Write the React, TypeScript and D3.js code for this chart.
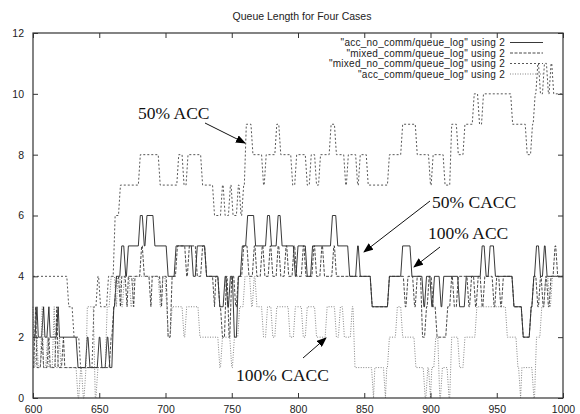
import React, { useEffect, useRef } from "react";
import * as d3 from "d3";

// [time, queue length] — each pair starts a run that holds until the next pair
const accNoComm: [number, number][] = [
  [600, 2], [603, 3], [604, 2], [608, 3], [609, 2], [612, 3], [613, 2], [619, 3], [620, 2],
  [634, 1], [641, 2], [643, 1], [650, 2], [652, 1], [656, 2], [658, 1], [661, 3], [663, 4],
  [667, 5], [670, 4], [672, 5], [681, 6], [684, 5], [686, 6], [692, 5], [702, 4], [708, 5],
  [721, 4], [724, 5], [731, 4], [741, 3], [745, 4], [747, 3], [749, 4], [752, 2], [755, 4],
  [758, 5], [762, 6], [768, 5], [777, 6], [780, 5], [785, 6], [788, 5], [798, 4], [800, 5],
  [807, 4], [811, 5], [826, 6], [830, 5], [839, 4], [845, 5], [847, 4], [856, 3], [869, 4],
  [879, 5], [886, 4], [895, 3], [897, 4], [901, 3], [903, 4], [908, 3], [910, 4], [922, 3],
  [927, 4], [939, 5], [942, 4], [945, 5], [949, 4], [963, 3], [970, 2], [976, 3], [978, 4],
  [980, 5], [983, 4], [986, 5], [988, 4],
];

const mixedComm: [number, number][] = [
  [600, 1], [602, 3], [603, 1], [607, 2], [608, 1], [612, 2], [613, 1], [618, 3], [619, 1],
  [623, 2], [624, 1], [659, 2], [661, 3], [663, 4], [666, 3], [667, 4], [671, 3], [672, 4],
  [676, 3], [677, 4], [682, 5], [684, 4], [689, 3], [690, 4], [697, 3], [698, 4], [702, 2],
  [705, 4], [709, 5], [716, 4], [718, 5], [724, 4], [728, 5], [731, 4], [737, 3], [738, 4],
  [741, 3], [743, 2], [746, 4], [748, 2], [750, 4], [753, 3], [755, 4], [759, 5], [763, 4],
  [767, 5], [769, 4], [773, 5], [775, 4], [779, 5], [781, 4], [785, 5], [787, 4], [791, 5],
  [793, 4], [797, 5], [799, 4], [804, 5], [806, 4], [812, 5], [814, 4], [818, 5], [820, 4],
  [827, 5], [829, 4], [856, 3], [869, 4], [881, 3], [883, 4], [888, 3], [890, 4], [894, 2],
  [897, 3], [899, 4], [902, 3], [905, 2], [913, 3], [916, 4], [918, 3], [921, 4], [929, 3],
  [931, 4], [934, 3], [936, 4], [939, 3], [941, 4], [948, 3], [950, 4], [953, 3], [955, 4],
  [963, 3], [970, 2], [976, 3], [978, 4], [981, 3], [983, 4], [985, 3], [987, 4], [989, 3],
  [991, 4], [994, 5], [996, 4],
];

const mixedNoComm: [number, number][] = [
  [600, 4], [627, 3], [631, 2], [636, 1], [646, 3], [649, 4], [651, 3], [657, 4], [662, 6],
  [666, 7], [681, 8], [696, 7], [710, 8], [714, 7], [717, 8], [728, 7], [737, 6], [743, 7],
  [745, 6], [749, 7], [751, 6], [755, 7], [757, 6], [759, 7], [761, 9], [766, 8], [774, 7],
  [776, 8], [784, 9], [787, 8], [796, 7], [799, 8], [807, 7], [810, 8], [814, 7], [817, 8],
  [825, 9], [829, 8], [836, 7], [838, 8], [845, 7], [847, 8], [853, 7], [869, 8], [879, 9],
  [890, 8], [900, 7], [902, 8], [911, 7], [916, 9], [921, 8], [926, 9], [933, 10], [937, 9],
  [940, 10], [962, 9], [973, 8], [977, 9], [979, 10], [981, 11], [983, 10], [986, 11],
  [989, 10], [991, 11], [993, 10],
];

const accComm: [number, number][] = [
  [600, 3], [601, 1], [603, 2], [604, 1], [607, 3], [608, 1], [611, 2], [612, 1], [616, 3],
  [617, 1], [620, 2], [621, 1], [634, 0], [636, 1], [638, 0], [640, 1], [641, 3], [647, 0],
  [649, 1], [656, 3], [659, 4], [663, 3], [664, 4], [667, 3], [669, 4], [674, 3], [676, 4],
  [696, 3], [698, 4], [701, 3], [702, 2], [705, 3], [714, 2], [716, 3], [726, 2], [741, 1],
  [743, 2], [750, 1], [752, 2], [756, 3], [760, 4], [765, 3], [767, 4], [769, 3], [774, 2],
  [777, 3], [781, 2], [784, 3], [794, 2], [798, 3], [804, 2], [807, 3], [814, 2], [822, 3],
  [829, 2], [832, 3], [835, 2], [841, 3], [843, 1], [857, 0], [858, 1], [866, 0], [867, 1],
  [869, 2], [875, 3], [879, 2], [889, 1], [896, 0], [898, 1], [900, 0], [901, 1], [904, 2],
  [907, 0], [909, 1], [914, 0], [916, 2], [922, 1], [926, 2], [935, 3], [958, 2], [966, 1],
  [968, 0], [969, 1], [978, 0], [980, 2], [984, 3], [987, 4], [990, 3], [992, 4],
];

const seriesNames = [
  '"acc_no_comm/queue_log" using 2',
  '"mixed_comm/queue_log" using 2',
  '"mixed_no_comm/queue_log" using 2',
  '"acc_comm/queue_log" using 2',
];
const seriesData = [accNoComm, mixedComm, mixedNoComm, accComm];
const seriesDash = [null, "3,1.5", "2,2", "1,1.5"];
const seriesColor = ["#222", "#333", "#444", "#777"];

const xTicks = [600, 650, 700, 750, 800, 850, 900, 950, 1000];
const yTicks = [0, 2, 4, 6, 8, 10, 12];

// annotation text and the data point each arrow points at
const notes = [
  { text: "50% ACC", x: 138, y: 119, from: [205, 123], to: [245, 143] },
  { text: "50% CACC", x: 432, y: 208, from: [430, 201], to: [364, 252] },
  { text: "100% ACC", x: 428, y: 239, from: [440, 247], to: [414, 267] },
  { text: "100% CACC", x: 236, y: 381, from: [303, 358], to: [326, 338] },
];

const RAMP = 1.5; // time between samples, gives the slanted edges

function runsToPoints(runs: [number, number][], end: number) {
  const pts: [number, number][] = [];
  runs.forEach(([t, v], i) => {
    const next = i < runs.length - 1 ? runs[i + 1][0] - RAMP : end;
    pts.push([t, v]);
    if (next > t) pts.push([next, v]);
  });
  return pts;
}

const QueueChart = () => {
  const ref = useRef<HTMLDivElement>(null);

  useEffect(() => {
    d3.select(ref.current).selectAll("*").remove();

    const W = 580;
    const H = 414;
    const margin = { top: 33, right: 17, bottom: 16, left: 33 };
    const width = W - margin.left - margin.right;
    const height = H - margin.top - margin.bottom;

    const svg = d3
      .select(ref.current)
      .append("svg")
      .attr("width", W)
      .attr("height", H)
      .style("display", "block")
      .style("background", "#fff");

    const defs = svg.append("defs");
    defs
      .append("marker")
      .attr("id", "arrow")
      .attr("viewBox", "0 0 10 8")
      .attr("refX", 9)
      .attr("refY", 4)
      .attr("markerWidth", 10)
      .attr("markerHeight", 8)
      .attr("markerUnits", "userSpaceOnUse")
      .attr("orient", "auto")
      .append("path")
      .attr("d", "M0,0 L10,4 L0,8 z")
      .attr("fill", "#000");

    const g = svg.append("g").attr("transform", `translate(${margin.left},${margin.top})`);

    const x = d3.scaleLinear().domain([600, 1000]).range([0, width]);
    const y = d3.scaleLinear().domain([0, 12]).range([height, 0]);

    const font = "Liberation Sans, Arial, sans-serif";

    // title
    svg
      .append("text")
      .attr("x", margin.left + width / 2 + 4)
      .attr("y", 20)
      .attr("text-anchor", "middle")
      .style("font-family", font)
      .style("font-size", "10.5px")
      .style("fill", "#222")
      .text("Queue Length for Four Cases");

    // series
    const line = d3
      .line<[number, number]>()
      .x((d) => x(d[0]))
      .y((d) => y(d[1]));

    seriesData.forEach((runs, i) => {
      const path = g
        .append("path")
        .datum(runsToPoints(runs, 1000))
        .attr("d", line)
        .attr("fill", "none")
        .attr("stroke", seriesColor[i])
        .attr("stroke-width", 0.9);
      if (seriesDash[i]) path.attr("stroke-dasharray", seriesDash[i]);
    });

    // frame with inward ticks on all sides
    g.append("g")
      .attr("transform", `translate(0,${height})`)
      .call(d3.axisBottom(x).tickValues(xTicks).tickSize(-5).tickPadding(8).tickFormat(d3.format("d")))
      .call((s) => s.select(".domain").remove())
      .selectAll("text")
      .style("font-family", font)
      .style("font-size", "10.5px")
      .style("fill", "#222");
    g.append("g")
      .call(d3.axisTop(x).tickValues(xTicks).tickSize(-5).tickFormat(() => ""))
      .call((s) => s.select(".domain").remove());
    g.append("g")
      .call(d3.axisLeft(y).tickValues(yTicks).tickSize(-5).tickPadding(9))
      .call((s) => s.select(".domain").remove())
      .selectAll("text")
      .style("font-family", font)
      .style("font-size", "10.5px")
      .style("fill", "#222");
    g.append("g")
      .attr("transform", `translate(${width},0)`)
      .call(d3.axisRight(y).tickValues(yTicks).tickSize(-5).tickFormat(() => ""))
      .call((s) => s.select(".domain").remove());
    g.selectAll(".tick line").attr("stroke", "#333");

    g.append("rect")
      .attr("width", width)
      .attr("height", height)
      .attr("fill", "none")
      .attr("stroke", "#333")
      .attr("stroke-width", 1.2);

    // legend, drawn over the data as gnuplot does
    const legend = g.append("g").attr("transform", `translate(${width - 58},9.5)`);
    seriesNames.forEach((name, i) => {
      const row = legend.append("g").attr("transform", `translate(0,${i * 10.5})`);
      row
        .append("text")
        .attr("x", 0)
        .attr("y", 3.5)
        .attr("text-anchor", "end")
        .style("font-family", font)
        .style("font-size", "10px")
        .style("letter-spacing", "0.25px")
        .style("fill", "#222")
        .text(name);
      const l = row
        .append("line")
        .attr("x1", 5)
        .attr("x2", 38)
        .attr("y1", 0)
        .attr("y2", 0)
        .attr("stroke", seriesColor[i])
        .attr("stroke-width", 0.9);
      if (seriesDash[i]) l.attr("stroke-dasharray", seriesDash[i]);
    });

    // annotations
    notes.forEach((n) => {
      svg
        .append("text")
        .attr("x", n.x)
        .attr("y", n.y)
        .style("font-family", "Liberation Serif, Times New Roman, serif")
        .style("font-size", "17.5px")
        .style("fill", "#111")
        .text(n.text);
      svg
        .append("line")
        .attr("x1", n.from[0])
        .attr("y1", n.from[1])
        .attr("x2", n.to[0])
        .attr("y2", n.to[1])
        .attr("stroke", "#111")
        .attr("stroke-width", 1)
        .attr("marker-end", "url(#arrow)");
    });
  }, []);

  return <div ref={ref} style={{ position: "absolute", left: 0, top: 0 }}></div>;
};

export default function App() {
  return <QueueChart />;
}
